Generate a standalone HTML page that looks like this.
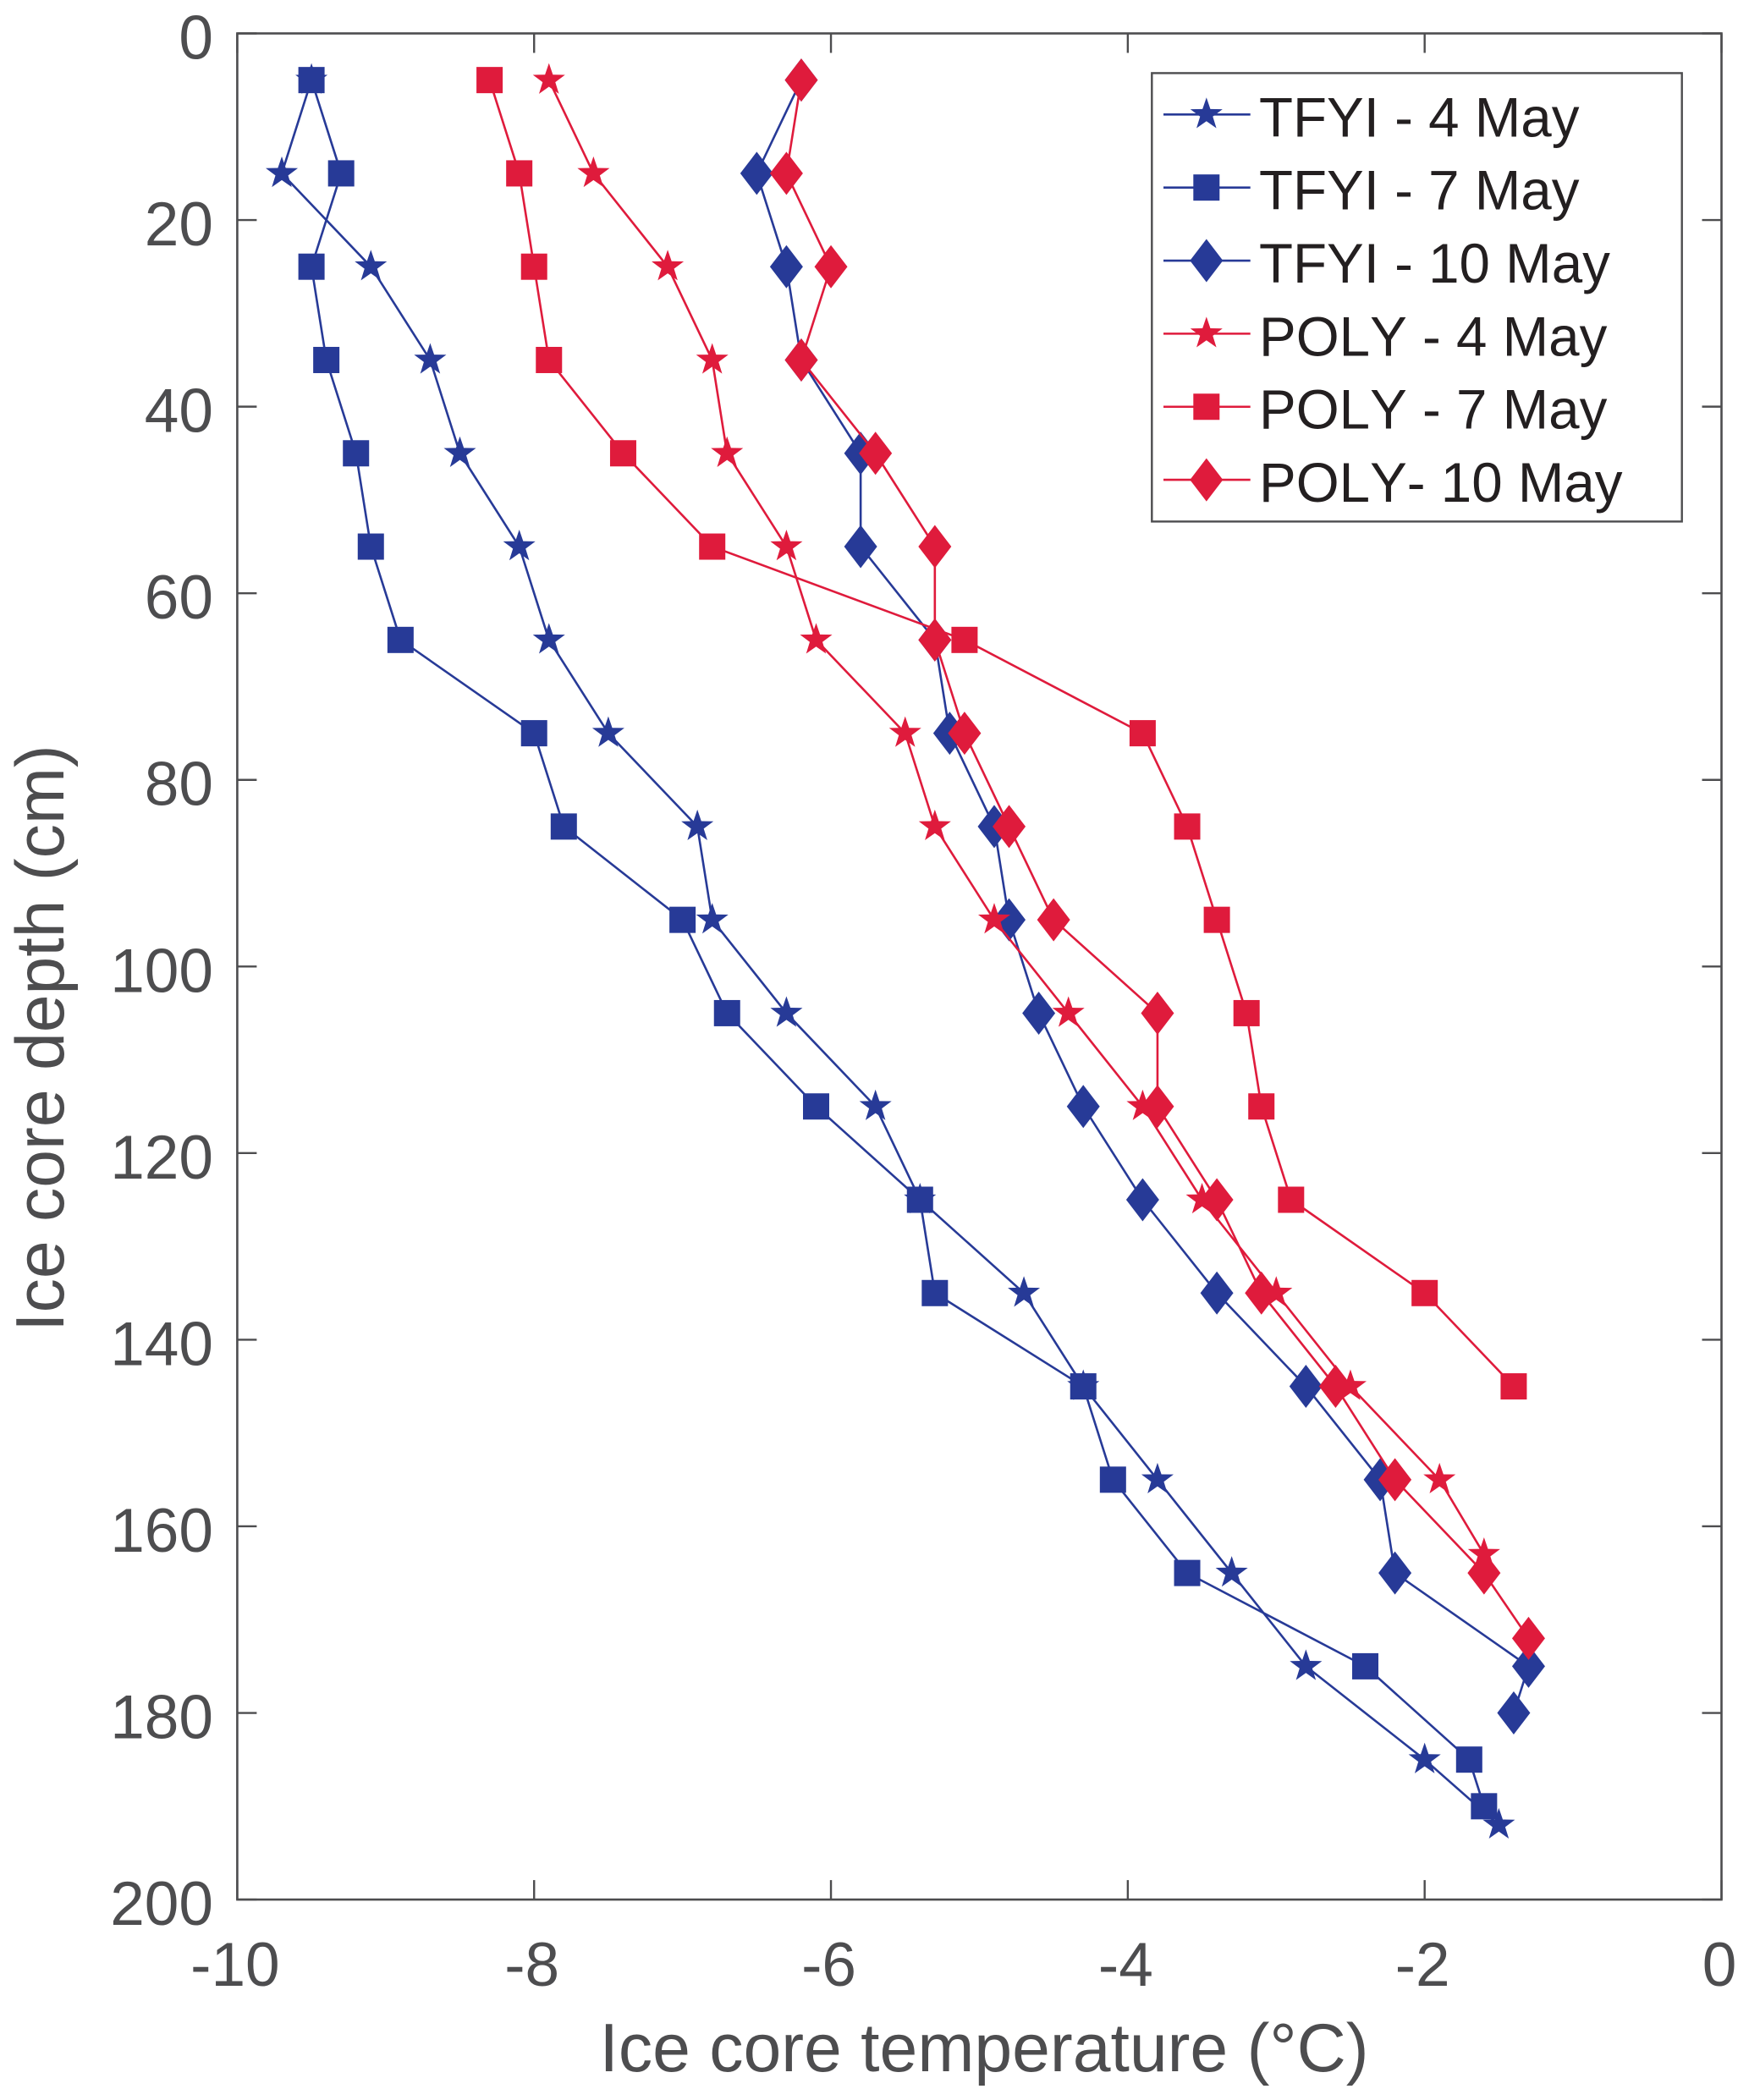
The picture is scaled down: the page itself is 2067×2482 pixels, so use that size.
<!DOCTYPE html>
<html lang="en">
<head>
<meta charset="utf-8">
<title>Ice core temperature profiles</title>
<style>
html,body{margin:0;padding:0;background:#fff;}
svg{display:block;font-family:"Liberation Sans",Arial,sans-serif;}
</style>
</head>
<body>
<svg id="chart" xmlns="http://www.w3.org/2000/svg" width="2067" height="2482" viewBox="0 0 2067 2482">
  <rect x="0" y="0" width="2067" height="2482" fill="#ffffff"/>
  <g id="ticks"></g>
  <g id="series"></g>
  <rect x="280.4" y="39.5" width="1754.1" height="2205.6" fill="none" stroke="#4d4d4f" stroke-width="2.6"/>
  <g id="tick-labels" font-size="73" fill="#4d4d4f"></g>
  <text x="1163" y="2448" font-size="80.5" fill="#4d4d4f" text-anchor="middle">Ice core temperature (°C)</text>
  <text transform="translate(75 1227) rotate(-90)" font-size="80.5" fill="#4d4d4f" text-anchor="middle">Ice core depth (cm)</text>
  <g id="legend">
    <rect x="1361.3" y="86.4" width="626.4" height="530" fill="#ffffff" stroke="#4d4d4f" stroke-width="2.4"/>
  </g>
</svg>
<script>
const xTicks = [-10, -8, -6, -4, -2, 0];
const yTicks = [0, 20, 40, 60, 80, 100, 120, 140, 160, 180, 200];

const tfyi4Temp  = [-9.5,-9.7,-9.1,-8.7,-8.5,-8.1,-7.9,-7.5,-6.9,-6.8,-6.3,-5.7,-5.4,-4.7,-4.3,-3.8,-3.3,-2.8,-2.0,-1.5];
const tfyi4Depth = [5,15,25,35,45,55,65,75,85,95,105,115,125,135,145,155,165,175,185,192];

const tfyi7Temp  = [-9.5,-9.3,-9.5,-9.4,-9.2,-9.1,-8.9,-8.0,-7.8,-7.0,-6.7,-6.1,-5.4,-5.3,-4.3,-4.1,-3.6,-2.4,-1.7,-1.6];
const tfyi7Depth = [5,15,25,35,45,55,65,75,85,95,105,115,125,135,145,155,165,175,185,190];

const tfyi10Temp  = [-6.2,-6.5,-6.3,-6.2,-5.8,-5.8,-5.3,-5.2,-4.9,-4.8,-4.6,-4.3,-3.9,-3.4,-2.8,-2.3,-2.2,-1.3,-1.4];
const tfyi10Depth = [5,15,25,35,45,55,65,75,85,95,105,115,125,135,145,155,165,175,180];

const poly4Temp  = [-7.9,-7.6,-7.1,-6.8,-6.7,-6.3,-6.1,-5.5,-5.3,-4.9,-4.4,-3.9,-3.5,-3.0,-2.5,-1.9,-1.6];
const poly4Depth = [5,15,25,35,45,55,65,75,85,95,105,115,125,135,145,155,163];

const poly7Temp  = [-8.3,-8.1,-8.0,-7.9,-7.4,-6.8,-5.1,-3.9,-3.6,-3.4,-3.2,-3.1,-2.9,-2.0,-1.4];
const poly7Depth = [5,15,25,35,45,55,65,75,85,95,105,115,125,135,145];

const poly10Temp  = [-6.2,-6.3,-6.0,-6.2,-5.7,-5.3,-5.3,-5.1,-4.8,-4.5,-3.8,-3.8,-3.4,-3.1,-2.6,-2.2,-1.6,-1.3];
const poly10Depth = [5,15,25,35,45,55,65,75,85,95,105,115,125,135,145,155,165,172];

const seriesTemps  = [tfyi4Temp, tfyi7Temp, tfyi10Temp, poly4Temp, poly7Temp, poly10Temp];
const seriesDepths = [tfyi4Depth, tfyi7Depth, tfyi10Depth, poly4Depth, poly7Depth, poly10Depth];
const seriesKeys   = ['tfyi-4-may','tfyi-7-may','tfyi-10-may','poly-4-may','poly-7-may','poly-10-may'];
const legendLabels = ['TFYI - 4 May','TFYI - 7 May','TFYI - 10 May','POLY - 4 May','POLY - 7 May','POLY- 10 May'];
const seriesShapes = ['star','square','diamond','star','square','diamond'];

const BLUE = '#273a97';
const RED = '#df1b3c';
const seriesColors = [BLUE, BLUE, BLUE, RED, RED, RED];

const NS = 'http://www.w3.org/2000/svg';
const PLOT = {left: 280.4, right: 2034.5, top: 39.5, bottom: 2245.1};
const TICK_LEN = 23;

function xScale(v) { return PLOT.left + (v + 10) / 10 * (PLOT.right - PLOT.left); }
function yScale(v) { return PLOT.top + v / 200 * (PLOT.bottom - PLOT.top); }

function make(tag, attrs) {
  const el = document.createElementNS(NS, tag);
  for (const k in attrs) el.setAttribute(k, attrs[k]);
  return el;
}

function markerGeometry(shape, cx, cy, color) {
  if (shape === 'square') {
    return make('rect', {x: cx - 15.5, y: cy - 15.5, width: 31, height: 31, fill: color});
  }
  if (shape === 'diamond') {
    const p = [[cx, cy - 25.5], [cx + 19.5, cy], [cx, cy + 25.5], [cx - 19.5, cy]];
    return make('polygon', {points: p.map(q => q.join(',')).join(' '), fill: color});
  }
  const pts = [];
  for (let i = 0; i < 10; i++) {
    const r = i % 2 === 0 ? 20 : 7.9;
    const a = -Math.PI / 2 + i * Math.PI / 5;
    pts.push((cx + r * Math.cos(a)).toFixed(2) + ',' + (cy + r * Math.sin(a)).toFixed(2));
  }
  return make('polygon', {points: pts.join(' '), fill: color});
}

const tickGroup = document.getElementById('ticks');
const labelGroup = document.getElementById('tick-labels');

xTicks.forEach(function (t) {
  const x = xScale(t);
  const top = make('line', {x1: x, x2: x, y1: PLOT.top, y2: PLOT.top + TICK_LEN, stroke: '#4d4d4f', 'stroke-width': 2.4});
  
  
  tickGroup.appendChild(top);
  const bottom = make('line', {x1: x, x2: x, y1: PLOT.bottom, y2: PLOT.bottom - TICK_LEN, stroke: '#4d4d4f', 'stroke-width': 2.4});
  
  
  tickGroup.appendChild(bottom);
  const label = make('text', {x: x - 2.5, y: 2347, 'text-anchor': 'middle'});
  
  
  label.textContent = String(t);
  labelGroup.appendChild(label);
});

yTicks.forEach(function (t) {
  const y = yScale(t);
  const left = make('line', {x1: PLOT.left, x2: PLOT.left + TICK_LEN, y1: y, y2: y, stroke: '#4d4d4f', 'stroke-width': 2.4});
  
  
  tickGroup.appendChild(left);
  const right = make('line', {x1: PLOT.right, x2: PLOT.right - TICK_LEN, y1: y, y2: y, stroke: '#4d4d4f', 'stroke-width': 2.4});
  
  
  tickGroup.appendChild(right);
  const label = make('text', {x: 252, y: y + 30, 'text-anchor': 'end'});
  
  
  label.textContent = String(t);
  labelGroup.appendChild(label);
});

const seriesGroup = document.getElementById('series');
seriesTemps.forEach(function (temps, s) {
  const depths = seriesDepths[s];
  const color = seriesColors[s];
  const g = make('g', {});
  
  
  const line = make('polyline', {
    points: temps.map((t, i) => xScale(t).toFixed(2) + ',' + yScale(depths[i]).toFixed(2)).join(' '),
    fill: 'none', stroke: color, 'stroke-width': 2.6, 'stroke-linejoin': 'round'
  });
  
  
  g.appendChild(line);
  temps.forEach(function (t, i) {
    const m = markerGeometry(seriesShapes[s], xScale(t), yScale(depths[i]), color);
    
    
    g.appendChild(m);
  });
  seriesGroup.appendChild(g);
});

const legendGroup = document.getElementById('legend');
legendLabels.forEach(function (text, s) {
  const y = 135.3 + s * 86.36;
  const g = make('g', {});
  
  
  const line = make('line', {x1: 1375, x2: 1477.7, y1: y, y2: y, stroke: seriesColors[s], 'stroke-width': 2.6});
  
  
  g.appendChild(line);
  const m = markerGeometry(seriesShapes[s], 1425.8, y, seriesColors[s]);
  
  
  g.appendChild(m);
  const label = make('text', {x: 1488, y: y + 26, 'font-size': 65.5, fill: '#231f20', style: 'font-kerning:none'});
  
  
  label.textContent = text;
  g.appendChild(label);
  legendGroup.appendChild(g);
});
</script>
</body>
</html>
